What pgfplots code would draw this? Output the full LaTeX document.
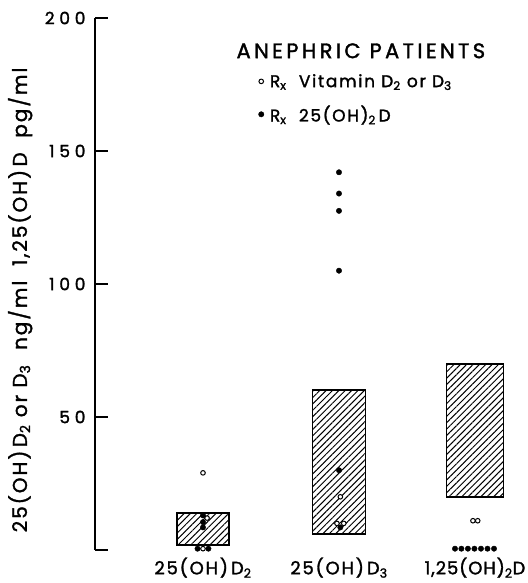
\documentclass[border=0pt]{standalone}
\usepackage{fontspec}
\setmainfont{Poppins}[LetterSpace=10, FakeBold=1.6]
\usepackage{pgfplots}
\pgfplotsset{compat=1.18}
\usetikzlibrary{patterns.meta}
\newcommand{\sub}[1]{\textsubscript{#1}}
\begin{document}
\begin{tikzpicture}
\useasboundingbox (0,0) rectangle (527pt,583pt);
\begin{axis}[
  at={(95pt,33pt)}, anchor=south west,
  scale only axis, width=425pt, height=532pt,
  xmin=0.206, xmax=3.331, ymin=0, ymax=200,
  axis y line*=left, axis x line*=bottom,
  x axis line style={draw=none},
  y axis line style={line width=1.8pt},
  xtick={1,2,3},
  xticklabels={{25(OH)\,D\sub{2}},{25(OH)\,D\sub{3}},{\addfontfeatures{LetterSpace=5}1,25(OH)\sub{2}D}},
  xtick style={draw=none},
  xticklabel style={font=\fontsize{18}{18}\selectfont, yshift=-4pt},
  ytick={0,50,100,150,200},
  yticklabels={,50,100,150,200},
  tick align=inside,
  major tick length=13pt,
  ytick style={line width=1.8pt, black},
  yticklabel style={font=\addfontfeatures{LetterSpace=28}\fontsize{17}{17}\selectfont, xshift=-6pt},
  /pgf/number format/assume math mode=true,
  ylabel={25(OH)\,D\sub{2} or D\sub{3}\ \ ng/ml\ \ 1,25(OH)\,D\ \ pg/ml},
  every axis y label/.style={at={(axis description cs:-0.176,0.47)}, rotate=90, anchor=center, font=\fontsize{20}{20}\selectfont},
  clip=false,
  legend style={draw=none, fill=none, at={(axis cs:1.385,169.7)}, anchor=west,
    font=\fontsize{17}{17}\selectfont, row sep=13pt, column sep=4pt},
  legend image code/.code={\draw[#1] plot coordinates {(3pt,0pt)};},
  legend cell align=left,
]
% bars (low-high ranges)
\addplot[draw=black, line width=1.8pt, pattern={Lines[angle=45, distance=4.5pt, line width=1pt]}, forget plot]
  coordinates {(0.81,2) (1.19,2) (1.19,14) (0.81,14)} -- cycle;
\addplot[draw=black, line width=1.8pt, pattern={Lines[angle=45, distance=4.5pt, line width=1pt]}, forget plot]
  coordinates {(1.805,6) (2.195,6) (2.195,60) (1.805,60)} -- cycle;
\addplot[draw=black, line width=1.8pt, pattern={Lines[angle=45, distance=4.5pt, line width=1pt]}, forget plot]
  coordinates {(2.79,20) (3.21,20) (3.21,70) (2.79,70)} -- cycle;
% open circles: Rx Vitamin D2 or D3
\addplot[only marks, mark=*, mark options={fill=white, draw=black, line width=1pt}, mark size=2.3pt]
  coordinates {(1.0,29) (1.03,12) (1.0,0.5)
               (2.01,20) (1.985,10) (2.035,10)
               (2.985,11) (3.02,11)};
\addlegendentry{R\sub{x}\ \ Vitamin D\sub{2} or D\sub{3}}
% filled dots: Rx 25(OH)2D
\addplot[only marks, mark=*, mark options={fill=black, draw=black}, mark size=2.7pt]
  coordinates {(1.0,13) (1.0,10.5) (1.0,8.5) (0.96,0.5) (1.04,0.5)
               (2.0,142) (2.0,134) (2.0,127.5) (2.0,105) (2.0,30) (2.01,8.5)
               (2.853,0.5) (2.9,0.5) (2.948,0.5) (2.996,0.5) (3.044,0.5) (3.092,0.5) (3.14,0.5)};
\addlegendentry{R\sub{x}\ \ 25(OH)\sub{2}\,D}
\node[anchor=base west, font=\addfontfeatures{LetterSpace=16}\fontsize{21}{21}\selectfont] at (axis cs:1.221,184.9) {ANEPHRIC PATIENTS};
\end{axis}
\end{tikzpicture}
\end{document}
